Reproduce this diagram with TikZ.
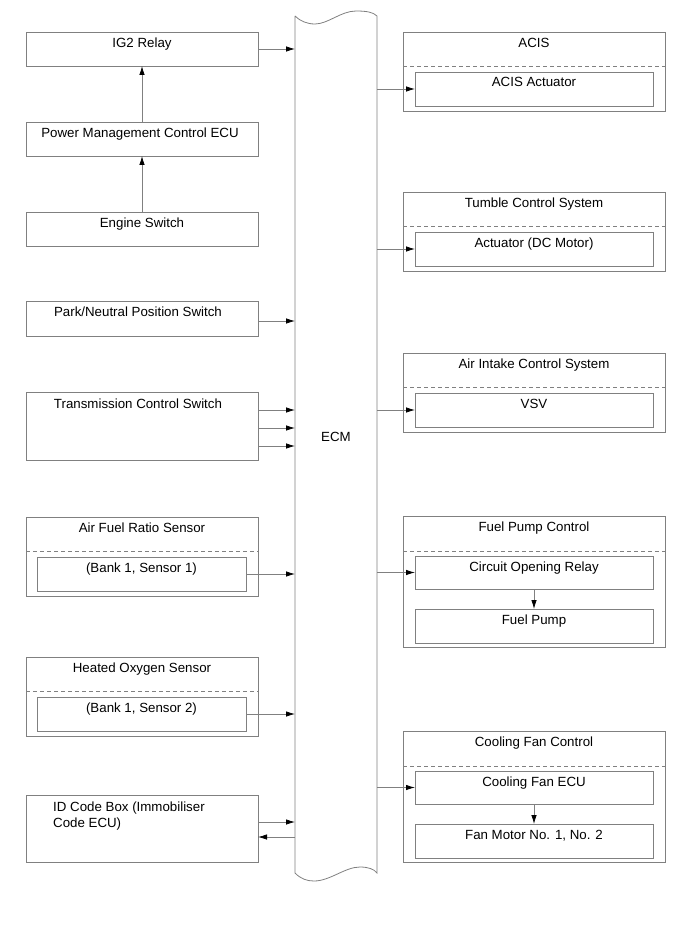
\documentclass[tikz,border=0pt]{standalone}
\usepackage{fontspec}
\setmainfont{Liberation Sans}
\usetikzlibrary{arrows.meta,calc}
\definecolor{ln}{RGB}{128,128,128}
\tikzset{
 box/.style={draw=ln, line width=0.8pt, anchor=north west, inner sep=0pt, outer sep=0pt},
 lbl/.style={font=\fontsize{13.3}{16}\selectfont, inner sep=0pt, anchor=base},
 arr/.style={draw=ln, line width=0.8pt, -{Latex[length=9pt,width=5.5pt,color=black]}},
 dsh/.style={draw=ln, line width=0.8pt, dash pattern=on 4pt off 3pt},
 ecmline/.style={draw=ln, line width=0.8pt},
}
\begin{document}
\begin{tikzpicture}[x=1pt,y=-1pt]
\useasboundingbox (0,0) rectangle (690,952);
% ECM bar
\node[inner sep=0pt, outer sep=0pt, anchor=north west, minimum width=82pt, minimum height=857pt] (ecm) at (295,16) {};
\draw[ecmline] (295,16) -- (295,873) .. controls (301,879) and (307,881) .. (314,881)
  .. controls (330,881) and (345,867) .. (360,867) .. controls (368,867) and (374,869) .. (377,873)
  -- (377,16) .. controls (373,12) and (366,11) .. (356,11)
  .. controls (341,11) and (328,24) .. (315,24) .. controls (307,24) and (300,21) .. (295,16);
\node[lbl] (ecmt) at (336,441) {ECM};

% Left column
\node[box, minimum width=232pt, minimum height=34pt] (ig2) at (26,32) {};
\node[lbl] (ig2t) at ($(ig2.north)+(0,15.5)$) {IG2 Relay};
\node[box, minimum width=232pt, minimum height=34pt] (pm) at (26,122) {};
\node[lbl] (pmt) at ($(pm.north)+(-2,15.5)$) {Power Management Control ECU};
\node[box, minimum width=232pt, minimum height=34pt] (es) at (26,212) {};
\node[lbl] (est) at ($(es.north)+(0,15.5)$) {Engine Switch};
\node[box, minimum width=232pt, minimum height=35pt] (pn) at (26,301) {};
\node[lbl] (pnt) at ($(pn.north)+(-4,15.5)$) {Park/Neutral Position Switch};
\node[box, minimum width=232pt, minimum height=68pt] (tcs) at (26,392) {};
\node[lbl] (tcst) at ($(tcs.north)+(-4,16)$) {Transmission Control Switch};
\node[box, minimum width=232pt, minimum height=79pt] (afr) at (26,517) {};
\node[lbl] (afrt) at ($(afr.north)+(0,15.5)$) {Air Fuel Ratio Sensor};
\draw[dsh] ($(afr.north west)+(0,34)$) -- ($(afr.north east)+(0,34)$);
\node[box, minimum width=209pt, minimum height=34pt] (afri) at (37,557) {};
\node[lbl] (afrit) at ($(afri.north)+(0,15)$) {(Bank 1, Sensor 1)};
\node[box, minimum width=232pt, minimum height=79pt] (ho) at (26,657) {};
\node[lbl] (hot) at ($(ho.north)+(0,15.5)$) {Heated Oxygen Sensor};
\draw[dsh] ($(ho.north west)+(0,34)$) -- ($(ho.north east)+(0,34)$);
\node[box, minimum width=209pt, minimum height=34pt] (hoi) at (37,697) {};
\node[lbl] (hoit) at ($(hoi.north)+(0,15)$) {(Bank 1, Sensor 2)};
\node[box, minimum width=232pt, minimum height=67pt] (id) at (26,795) {};
\node[lbl, anchor=base west] (idt1) at ($(id.north west)+(27,16)$) {ID Code Box (Immobiliser};
\node[lbl, anchor=base west] (idt2) at ($(id.north west)+(27,32)$) {Code ECU)};

% Right column
\node[box, minimum width=262pt, minimum height=79pt] (acis) at (403,32) {};
\node[lbl] (acist) at ($(acis.north)+(0,15.5)$) {ACIS};
\draw[dsh] ($(acis.north west)+(0,34)$) -- ($(acis.north east)+(0,34)$);
\node[box, minimum width=238pt, minimum height=34pt] (acisi) at (415,72) {};
\node[lbl] (acisit) at ($(acisi.north)+(0,15)$) {ACIS Actuator};

\node[box, minimum width=262pt, minimum height=79pt] (tum) at (403,192) {};
\node[lbl] (tumt) at ($(tum.north)+(0,15.5)$) {Tumble Control System};
\draw[dsh] ($(tum.north west)+(0,34)$) -- ($(tum.north east)+(0,34)$);
\node[box, minimum width=238pt, minimum height=34pt] (tumi) at (415,232) {};
\node[lbl] (tumit) at ($(tumi.north)+(0,15)$) {Actuator (DC Motor)};

\node[box, minimum width=262pt, minimum height=79pt] (aic) at (403,353) {};
\node[lbl] (aict) at ($(aic.north)+(0,15.5)$) {Air Intake Control System};
\draw[dsh] ($(aic.north west)+(0,34)$) -- ($(aic.north east)+(0,34)$);
\node[box, minimum width=238pt, minimum height=34pt] (aici) at (415,393) {};
\node[lbl] (aicit) at ($(aici.north)+(0,15)$) {VSV};

\node[box, minimum width=262pt, minimum height=131pt] (fpc) at (403,516) {};
\node[lbl] (fpct) at ($(fpc.north)+(0,15.5)$) {Fuel Pump Control};
\draw[dsh] ($(fpc.north west)+(0,35)$) -- ($(fpc.north east)+(0,35)$);
\node[box, minimum width=238pt, minimum height=33pt] (cor) at (415,556) {};
\node[lbl] (cort) at ($(cor.north)+(0,15)$) {Circuit Opening Relay};
\node[box, minimum width=238pt, minimum height=34pt] (fp) at (415,609) {};
\node[lbl] (fpt) at ($(fp.north)+(0,15)$) {Fuel Pump};

\node[box, minimum width=262pt, minimum height=131pt] (cfc) at (403,731) {};
\node[lbl] (cfct) at ($(cfc.north)+(0,15.5)$) {Cooling Fan Control};
\draw[dsh] ($(cfc.north west)+(0,35)$) -- ($(cfc.north east)+(0,35)$);
\node[box, minimum width=238pt, minimum height=33pt] (cfe) at (415,771) {};
\node[lbl] (cfet) at ($(cfe.north)+(0,15)$) {Cooling Fan ECU};
\node[box, minimum width=238pt, minimum height=34pt] (fm) at (415,824) {};
\node[lbl] (fmt) at ($(fm.north)+(0,15)$) {Fan Motor No. 1, No. 2};

% Connectors left
\draw[arr] (ig2.east) -- (ig2.east -| ecm.west);
\draw[arr] (pm.north) -- (ig2.south);
\draw[arr] (es.north) -- (pm.south);
\coordinate (pna) at ($(pn.north east)+(0,20)$);
\draw[arr] (pna) -- (pna -| ecm.west);
\coordinate (tc1) at ($(tcs.north east)+(0,18)$);
\coordinate (tc2) at ($(tcs.north east)+(0,36)$);
\coordinate (tc3) at ($(tcs.north east)+(0,54)$);
\draw[arr] (tc1) -- (tc1 -| ecm.west);
\draw[arr] (tc2) -- (tc2 -| ecm.west);
\draw[arr] (tc3) -- (tc3 -| ecm.west);
\draw[arr] (afri.east) -- (afri.east -| ecm.west);
\draw[arr] (hoi.east) -- (hoi.east -| ecm.west);
\coordinate (id1) at ($(id.north east)+(0,27)$);
\coordinate (id2) at ($(id.north east)+(0,42)$);
\draw[arr] (id1) -- (id1 -| ecm.west);
\draw[arr] (id2 -| ecm.west) -- (id2);

% Connectors right
\draw[arr] (acisi.west -| ecm.east) -- (acisi.west);
\draw[arr] (tumi.west -| ecm.east) -- (tumi.west);
\draw[arr] (aici.west -| ecm.east) -- (aici.west);
\draw[arr] (cor.west -| ecm.east) -- (cor.west);
\draw[arr] (cor.south) -- (fp.north);
\draw[arr] (cfe.west -| ecm.east) -- (cfe.west);
\draw[arr] (cfe.south) -- (fm.north);
\end{tikzpicture}
\end{document}
